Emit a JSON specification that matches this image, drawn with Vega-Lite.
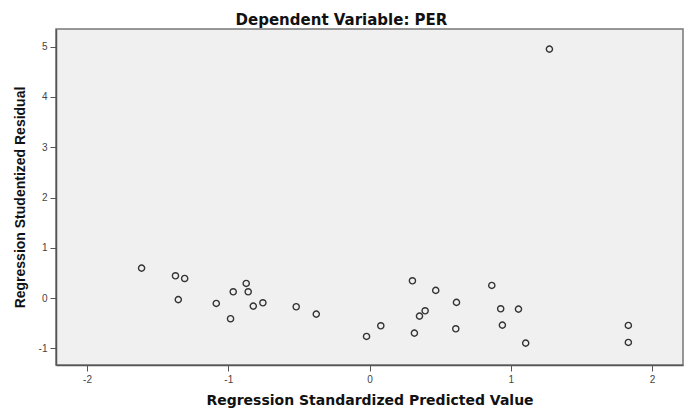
{
  "$schema": "https://vega.github.io/schema/vega-lite/v6.json",
  "autosize": "none",
  "width": 627,
  "height": 336,
  "padding": {"left": 56, "top": 29, "right": 9, "bottom": 45},
  "background": "white",
  "title": {
    "text": "Dependent Variable: PER",
    "font": "DejaVu Sans",
    "fontSize": 15,
    "fontWeight": "bold",
    "color": "#111",
    "anchor": "middle",
    "dx": -28,
    "offset": 1
  },
  "config": {
    "view": {"fill": "#f0f0f0", "stroke": "#777", "strokeWidth": 1.5},
    "axis": {
      "grid": false,
      "labelFont": "Liberation Sans",
      "labelFontSize": 10,
      "labelColor": "#444",
      "titleFontWeight": "bold",
      "titleColor": "#111",
      "domainColor": "#555",
      "domainWidth": 1.5,
      "tickColor": "#555",
      "tickSize": 6
    }
  },
  "data": {
    "values": [
      {"pred": -1.614, "resid": 0.596},
      {"pred": -1.374, "resid": 0.444},
      {"pred": -1.309, "resid": 0.39},
      {"pred": -1.354, "resid": -0.03},
      {"pred": -1.085, "resid": -0.106},
      {"pred": -0.965, "resid": 0.126},
      {"pred": -0.873, "resid": 0.292},
      {"pred": -0.859, "resid": 0.126},
      {"pred": -0.984, "resid": -0.41},
      {"pred": -0.823, "resid": -0.159},
      {"pred": -0.755, "resid": -0.093},
      {"pred": -0.519, "resid": -0.172},
      {"pred": -0.377, "resid": -0.318},
      {"pred": -0.021, "resid": -0.762},
      {"pred": 0.08, "resid": -0.55},
      {"pred": 0.304, "resid": 0.344},
      {"pred": 0.318, "resid": -0.696},
      {"pred": 0.354, "resid": -0.358},
      {"pred": 0.394, "resid": -0.252},
      {"pred": 0.469, "resid": 0.153},
      {"pred": 0.616, "resid": -0.085},
      {"pred": 0.611, "resid": -0.61},
      {"pred": 0.866, "resid": 0.252},
      {"pred": 0.929, "resid": -0.212},
      {"pred": 0.941, "resid": -0.537},
      {"pred": 1.055, "resid": -0.219},
      {"pred": 1.106, "resid": -0.895},
      {"pred": 1.833, "resid": -0.543},
      {"pred": 1.833, "resid": -0.881},
      {"pred": 1.274, "resid": 4.95}
    ]
  },
  "mark": {"type": "point", "shape": "circle", "filled": false, "stroke": "#333", "strokeWidth": 1.4, "size": 38, "opacity": 1},
  "encoding": {
    "x": {
      "field": "pred",
      "type": "quantitative",
      "title": "Regression Standardized Predicted Value",
      "scale": {"domain": [-2.22, 2.22], "nice": false, "zero": false},
      "axis": {
        "values": [-2, -1, 0, 1, 2],
        "labelExpr": "datum.value < 0 ? '-' + abs(datum.value) : '' + datum.value",
        "titleFont": "DejaVu Sans",
        "titleFontSize": 14,
        "titlePadding": 9,
        "labelPadding": 3
      }
    },
    "y": {
      "field": "resid",
      "type": "quantitative",
      "title": "Regression Studentized Residual",
      "scale": {"domain": [-1.33, 5.35], "nice": false, "zero": false},
      "axis": {
        "values": [-1, 0, 1, 2, 3, 4, 5],
        "labelExpr": "datum.value < 0 ? '-' + abs(datum.value) : '' + datum.value",
        "titleFont": "Liberation Sans",
        "titleFontSize": 14,
        "titlePadding": 11,
        "labelPadding": 3
      }
    }
  }
}
